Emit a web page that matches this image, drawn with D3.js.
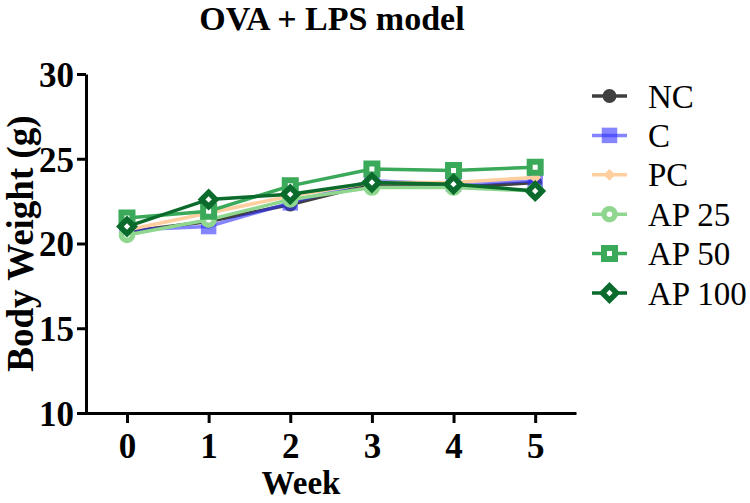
<!DOCTYPE html>
<html lang="en">

<head>
    <meta charset="utf-8">
    <title>OVA + LPS model</title>
    <script type="text/javascript" src="https://d3js.org/d3.v7.min.js"></script>
    <style>
        body {
            margin: 0;
            background: white;
        }

        text {
            font-family: "Liberation Serif", "Times New Roman", serif;
        }

        .axis path,
        .axis line {
            stroke: black;
            stroke-width: 3px;
        }

        g.tick text {
            font-size: 35px;
            font-weight: bold;
            fill: black;
        }
    </style>
</head>

<body>
    <div id="line-chart"></div>
    <script type="text/javascript">
        const width = 750;
        const height = 503;
        const margin = ({ left: 86, right: 174, top: 74, bottom: 90 })

        // data
        const weeks = [0, 1, 2, 3, 4, 5];
        const groups = ["NC", "C", "PC", "AP 25", "AP 50", "AP 100"];
        const nc = [20.7, 21.3, 22.3, 23.5, 23.3, 23.6];
        const c = [20.8, 21.0, 22.4, 23.7, 23.5, 23.7];
        const pc = [20.8, 21.8, 22.8, 23.6, 23.6, 23.9];
        const ap25 = [20.5, 21.4, 22.6, 23.3, 23.3, 23.1];
        const ap50 = [21.5, 21.9, 23.4, 24.4, 24.3, 24.5];
        const ap100 = [21.0, 22.6, 22.9, 23.6, 23.5, 23.1];
        const yTicks = [10, 15, 20, 25, 30];

        // diamonds are drawn as squares turned 45 degrees
        const series = [
            { name: groups[0], values: nc, color: "#3f3f3f", symbol: d3.symbolCircle, size: 150, rot: 0, sw: 0, opacity: 1 },
            { name: groups[1], values: c, color: "#3333ff", symbol: d3.symbolSquare, size: 240, rot: 0, sw: 0, opacity: 0.6 },
            { name: groups[2], values: pc, color: "#ffcf9f", symbol: d3.symbolSquare, size: 70, rot: 45, sw: 0, opacity: 1 },
            { name: groups[3], values: ap25, color: "#8fd68f", symbol: d3.symbolCircle, size: 95, rot: 0, sw: 5.5, opacity: 1 },
            { name: groups[4], values: ap50, color: "#3aa95a", symbol: d3.symbolSquare, size: 121, rot: 0, sw: 6, opacity: 1 },
            { name: groups[5], values: ap100, color: "#0b6b2c", symbol: d3.symbolSquare, size: 100, rot: 45, sw: 5.5, opacity: 1 }
        ];

        const svg = d3.select("#line-chart")
            .append("svg")
            .attr("width", width)
            .attr("height", height);

        // scales
        const x = d3.scaleLinear()
            .domain([-0.6, 5.5])
            .range([margin.left - 8, width - margin.right]);
        const y = d3.scaleLinear()
            .domain([10, 30])
            .range([height - margin.bottom, margin.top]);

        // x-axis
        svg.append("g")
            .attr("class", "x axis")
            .attr("transform", `translate(0, ${y(10)})`)
            .call(d3.axisBottom(x).tickValues(weeks).tickFormat(d3.format("d"))
                .tickSize(10).tickSizeOuter(0).tickPadding(9))
            .call(g => g.selectAll(".tick text").attr("dy", "0.75em"));

        // y-axis
        svg.append("g")
            .attr("class", "y axis")
            .attr("transform", `translate(${margin.left}, 0)`)
            .call(d3.axisLeft(y).tickValues(yTicks).tickSize(9).tickSizeOuter(0).tickPadding(3))
            .call(g => g.selectAll(".tick text").attr("dy", "0.35em"));

        // title + axis labels
        svg.append("text")
            .attr("x", 332)
            .attr("y", 30)
            .attr("text-anchor", "middle")
            .style("font-size", "34px")
            .style("font-weight", "bold")
            .text("OVA + LPS model");

        svg.append("text")
            .attr("x", 301)
            .attr("y", 494)
            .attr("text-anchor", "middle")
            .style("font-size", "33px")
            .style("font-weight", "bold")
            .text("Week");

        svg.append("text")
            .attr("transform", `translate(33, ${(y(10) + y(30)) / 2}) rotate(-90)`)
            .attr("text-anchor", "middle")
            .style("font-size", "37px")
            .style("font-weight", "bold")
            .text("Body Weight (g)");

        const line = d3.line()
            .x((d, i) => x(weeks[i]))
            .y(d => y(d));

        function markerStyle(sel, s) {
            sel.attr("d", d3.symbol().type(s.symbol).size(s.size))
                .attr("fill", s.sw ? "white" : s.color)
                .attr("stroke", s.color)
                .attr("stroke-width", s.sw)
                .attr("opacity", s.opacity);
        }

        // lines + markers
        series.forEach(s => {
            const g = svg.append("g").attr("class", "series");
            g.append("path")
                .datum(s.values)
                .attr("fill", "none")
                .attr("stroke", s.color)
                .attr("stroke-width", 3.5)
                .attr("opacity", s.opacity)
                .attr("d", line);
            g.selectAll("path.marker")
                .data(s.values)
                .enter()
                .append("path")
                .attr("class", "marker")
                .attr("transform", (d, i) => `translate(${x(weeks[i])}, ${y(d)}) rotate(${s.rot})`)
                .call(markerStyle, s);
        });

        // legend
        const legend = svg.append("g")
            .attr("class", "legend")
            .attr("transform", "translate(592, 96)");

        const item = legend.selectAll("g")
            .data(series)
            .enter()
            .append("g")
            .attr("transform", (d, i) => `translate(0, ${i * 39.4})`);

        item.append("line")
            .attr("x1", 0)
            .attr("x2", 35)
            .attr("stroke", d => d.color)
            .attr("stroke-width", 3.5)
            .attr("opacity", d => d.opacity);

        item.append("path")
            .attr("class", "marker")
            .attr("transform", d => `translate(17.5, 0) rotate(${d.rot})`)
            .each(function (d) { d3.select(this).call(markerStyle, d); });

        item.append("text")
            .attr("x", 56)
            .attr("dy", "0.35em")
            .style("font-size", "33px")
            .text(d => d.name);
    </script>
</body>

</html>
